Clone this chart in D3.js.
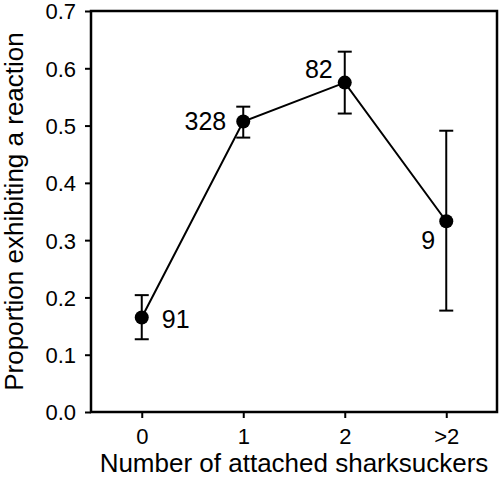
<!DOCTYPE html>
<html>
<head>
<meta charset="utf-8">
<script src="https://cdn.jsdelivr.net/npm/d3@7"></script>
<style>
  body { margin: 0; background: #fff; }
  text { font-family: "Liberation Sans", Arial, sans-serif; fill: #000; }
</style>
</head>
<body>
<div id="chart"></div>
<script>
// datos
var categorias = ["0", "1", "2", ">2"];
var proporcion = [0.165, 0.507, 0.575, 0.333];
var errSup = [0.204, 0.533, 0.629, 0.491];
var errInf = [0.127, 0.479, 0.521, 0.177];
var tamanos = ["91", "328", "82", "9"];
var yTicks = [0, 0.1, 0.2, 0.3, 0.4, 0.5, 0.6, 0.7];

var margin = {top: 11, right: 3, bottom: 67, left: 91},
    width = 500 - margin.left - margin.right,
    height = 479 - margin.top - margin.bottom;

var svg = d3.select("#chart")
  .append("svg")
  .attr("width", 500)
  .attr("height", 479)
  .append("g")
  .attr("transform", "translate(" + margin.left + "," + margin.top + ")");

var x = d3.scaleLinear().domain([-0.5, 3.5]).range([0, width]);
var y = d3.scaleLinear().domain([0, 0.7]).range([height, 0]);

var datos = categorias.map(function(c, i) {
  return {i: i, cat: c, v: proporcion[i], hi: errSup[i], lo: errInf[i], n: tamanos[i]};
});

// eje Y
var ejeY = svg.append("g")
  .call(d3.axisLeft(y).tickValues(yTicks).tickFormat(d3.format(".1f")).tickSize(6).tickSizeOuter(0));
ejeY.select(".domain").remove();
ejeY.selectAll("line").attr("stroke-width", 2);
ejeY.selectAll("text").style("font-size", "22px").attr("x", -15).attr("dy", "0.36em");

// eje X
var ejeX = svg.append("g")
  .attr("transform", "translate(0," + height + ")")
  .call(d3.axisBottom(x).tickValues([0, 1, 2, 3]).tickFormat(function(d) { return categorias[d]; }).tickSize(6).tickSizeOuter(0));
ejeX.select(".domain").remove();
ejeX.selectAll("line").attr("stroke-width", 2);
ejeX.selectAll("text").style("font-size", "22px").attr("dy", null).attr("y", 32);

// marco
svg.append("rect")
  .attr("x", 0).attr("y", 0)
  .attr("width", width).attr("height", height)
  .attr("fill", "none").attr("stroke", "#000").attr("stroke-width", 2.5);

// titulos
svg.append("text")
  .attr("x", width / 2)
  .attr("y", height + 60)
  .attr("text-anchor", "middle")
  .style("font-size", "26px")
  .text("Number of attached sharksuckers");

svg.append("text")
  .attr("transform", "translate(-68," + (height / 2) + ") rotate(-90)")
  .attr("text-anchor", "middle")
  .style("font-size", "26px")
  .text("Proportion exhibiting a reaction");

// linea
svg.append("path")
  .datum(datos)
  .attr("fill", "none")
  .attr("stroke", "#000")
  .attr("stroke-width", 2)
  .attr("d", d3.line().x(function(d) { return x(d.i); }).y(function(d) { return y(d.v); }));

// barras de error
var err = svg.append("g").attr("stroke", "#000").attr("stroke-width", 2);
err.selectAll(".v").data(datos).join("line")
  .attr("x1", function(d) { return x(d.i); })
  .attr("x2", function(d) { return x(d.i); })
  .attr("y1", function(d) { return y(d.hi); })
  .attr("y2", function(d) { return y(d.lo); });
["hi", "lo"].forEach(function(k) {
  err.append("g").selectAll("line").data(datos).join("line")
    .attr("x1", function(d) { return x(d.i) - 7; })
    .attr("x2", function(d) { return x(d.i) + 7; })
    .attr("y1", function(d) { return y(d[k]); })
    .attr("y2", function(d) { return y(d[k]); });
});

// puntos
svg.append("g").selectAll("circle").data(datos).join("circle")
  .attr("cx", function(d) { return x(d.i); })
  .attr("cy", function(d) { return y(d.v); })
  .attr("r", 7)
  .attr("fill", "#000");

// etiquetas de tamano de muestra
var desp = [{dx: 20, dy: 11, a: "start"}, {dx: -17, dy: 8, a: "end"}, {dx: -12, dy: -5, a: "end"}, {dx: -11, dy: 28, a: "end"}];
svg.append("g").selectAll("text").data(datos).join("text")
  .attr("x", function(d) { return x(d.i) + desp[d.i].dx; })
  .attr("y", function(d) { return y(d.v) + desp[d.i].dy; })
  .attr("text-anchor", function(d) { return desp[d.i].a; })
  .style("font-size", "25px")
  .text(function(d) { return d.n; });
</script>
</body>
</html>
